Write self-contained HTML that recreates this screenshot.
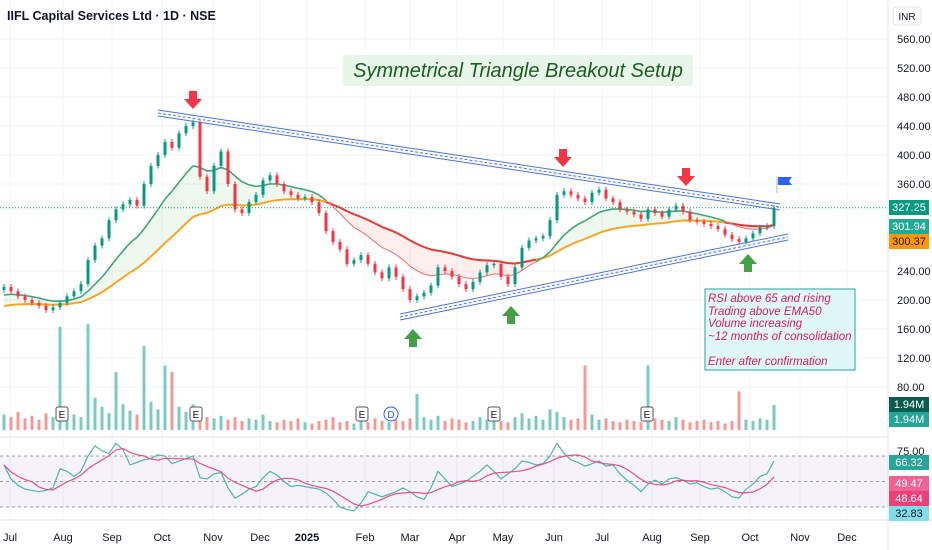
<!DOCTYPE html>
<html><head><meta charset="utf-8"><style>
html,body{margin:0;padding:0;background:#fff;}
svg{display:block;font-family:"Liberation Sans",sans-serif;}
</style></head><body>
<svg id="c" width="932" height="550" xmlns="http://www.w3.org/2000/svg">
<g id="grid"></g>
<rect x="0" y="456" width="888" height="51" fill="#7e57c2" fill-opacity="0.08"/>
<g id="vol"></g>
<g id="ema"></g>
<g id="candles"></g>
<g id="rsi"></g>
<g id="anno"></g>
<g id="axis"></g>
</svg>
<script>
const closes=[218,212,205,200,196,192,186,190,196,205,212,222,255,275,285,310,325,332,338,330,360,385,400,418,410,430,440,445,370,350,385,405,360,325,320,335,345,365,372,360,350,345,340,342,335,320,295,280,270,250,255,262,250,238,230,245,232,215,200,205,210,220,245,240,232,222,215,225,238,248,250,232,222,245,272,282,285,288,310,345,350,345,340,335,348,352,340,335,325,322,318,312,325,320,315,325,330,322,310,308,305,302,298,290,284,280,285,292,300,302,327];
const volumes=[1.2,1.0,1.4,0.9,1.1,0.8,1.3,1.0,8.0,1.5,1.2,1.0,8.2,2.5,1.8,1.3,4.5,2.0,1.5,1.2,6.5,2.2,1.6,5.0,4.5,1.8,1.4,2.0,1.2,1.0,0.9,1.1,0.8,1.0,0.7,0.9,0.8,1.2,0.7,0.6,0.8,0.7,0.9,0.6,0.5,0.7,0.8,1.0,0.6,0.7,0.5,0.8,0.6,0.9,0.7,0.6,0.8,0.7,0.9,2.8,1.0,0.8,1.1,0.7,0.9,0.8,0.6,0.7,1.0,0.8,0.9,0.7,0.6,1.0,1.3,0.9,1.1,0.8,1.6,1.4,1.0,0.8,0.9,5.0,1.2,0.8,0.9,0.7,0.6,0.8,0.7,0.6,5.0,0.9,0.8,0.7,1.0,0.8,0.6,0.7,0.8,0.6,0.7,0.5,0.7,3.0,0.8,0.7,0.9,0.8,1.94];
const rsiVals=[63,52,47,44,43,42,43,45,60,58,54,58,70,78,74,72,80,75,63,65,67,68,71,70,64,66,68,70,53,52,56,57,45,37,40,44,46,53,58,55,50,46,47,46,45,44,41,36,30,28,27,33,42,40,38,40,42,45,42,38,36,45,58,52,46,48,50,54,58,63,58,52,56,60,66,65,63,64,70,80,72,67,65,62,64,66,62,63,56,51,47,42,48,51,48,52,53,51,48,49,46,44,45,42,38,37,44,48,54,56,66];
const priceTicks=[560,520,480,440,400,360,240,200,160,120,80];
const monthLabels=["Jul","Aug","Sep","Oct","Nov","Dec","2025","Feb","Mar","Apr","May","Jun","Jul","Aug","Sep","Oct","Nov","Dec"];
const monthX=[10,63,112,162,213,260,307,365,410,457,503,554,602,652,700,750,800,847];

const NS="http://www.w3.org/2000/svg";
function el(t,a,p){const e=document.createElementNS(NS,t);for(const k in a)e.setAttribute(k,a[k]);p.appendChild(e);return e;}
const X=i=>4+i*7;
const Y=p=>39+(560-p)*0.725;
const VY=v=>430-v*12.9;
const RY=r=>456+(70-r)*1.275;
const G=id=>document.getElementById(id);

for(const t of priceTicks){const l=el('line',{x1:0,x2:888,y1:Y(t),y2:Y(t),stroke:'#f0f3fa'},G('grid'));

}
for(const mx of monthX){const l=el('line',{x1:mx,x2:mx,y1:0,y2:520,stroke:'#f0f3fa'},G('grid'));

}

closes.forEach((c,i)=>{const up=i==0?true:c>=closes[i-1];
const r=el('rect',{x:X(i)-1.5,y:VY(volumes[i]),width:3,height:volumes[i]*12.9,fill:up?'#26a69a':'#ef5350','fill-opacity':0.6},G('vol'));

});

function ema(arr,n,seed){const k=2/(n+1);let e=seed;return arr.map(v=>e=e+(v-e)*k);}
const fast=ema(closes,12,205), slow=ema(closes,30,190);
for(let i=1;i<closes.length;i++){
 const bull=fast[i]>=slow[i];
 const poly=el('polygon',{points:`${X(i-1)},${Y(fast[i-1])} ${X(i)},${Y(fast[i])} ${X(i)},${Y(slow[i])} ${X(i-1)},${Y(slow[i-1])}`,fill:bull?'#4caf50':'#f44336','fill-opacity':0.09},G('ema'));
 
 
 const a=el('line',{x1:X(i-1),y1:Y(slow[i-1]),x2:X(i),y2:Y(slow[i]),stroke:bull?'#f5a623':'#e53935','stroke-width':2},G('ema'));
 
 
 const b=el('line',{x1:X(i-1),y1:Y(fast[i-1]),x2:X(i),y2:Y(fast[i]),stroke:bull?'#43a37a':'#ef6b6b','stroke-width':bull?1.6:1},G('ema'));
 
 
}

closes.forEach((c,i)=>{const o=i==0?c-4:closes[i-1];const up=c>=o;const col=up?'#089981':'#f23645';
const hi=Math.max(o,c)+4, lo=Math.min(o,c)-4;
const w=el('line',{x1:X(i),x2:X(i),y1:Y(hi),y2:Y(lo),stroke:col,'stroke-width':1},G('candles'));


const b=el('rect',{x:X(i)-1.5,y:Y(Math.max(o,c)),width:3,height:Math.max(1,Math.abs(o-c)*0.725),fill:col},G('candles'));

});

const lp=el('line',{x1:0,x2:888,y1:Y(327.25),y2:Y(327.25),stroke:'#089981','stroke-dasharray':'1 2','stroke-width':1},G('axis'));



[70,50,30].forEach(v=>{const l=el('line',{x1:0,x2:888,y1:RY(v),y2:RY(v),stroke:'#9598a1','stroke-dasharray':'3 3'},G('rsi'));

});
const rsiPath=rsiVals.map((r,i)=>(i?'L':'M')+X(i)+','+RY(r)).join('');
const rp=el('path',{d:rsiPath,fill:'none',stroke:'#4db6ac','stroke-width':1.2},G('rsi'));


const ma=rsiVals.map((r,i)=>{const s=rsiVals.slice(Math.max(0,i-4),i+1);return s.reduce((a,b)=>a+b,0)/s.length;});
const mp=el('path',{d:ma.map((r,i)=>(i?'L':'M')+X(i)+','+RY(r)).join(''),fill:'none',stroke:'#e84e8a','stroke-width':1.2},G('rsi'));



priceTicks.forEach(t=>{const tx=el('text',{x:897,y:Y(t)+4,'font-size':11,fill:'#131722'},G('axis'));tx.textContent=t.toFixed(2);

});
monthLabels.forEach((m,i)=>{const tx=el('text',{x:monthX[i],y:541,'font-size':11,fill:'#131722','text-anchor':'middle','font-weight':m=='2025'?'bold':'normal'},G('axis'));tx.textContent=m;

});
</script>
<script>
const A=document.getElementById('anno');
A.insertAdjacentHTML('beforeend',`
<line x1="888" y1="0" x2="888" y2="550" stroke="#e0e3eb"/>
<line x1="0" y1="437" x2="888" y2="437" stroke="#e0e3eb"/>
<line x1="0" y1="520" x2="932" y2="520" stroke="#e0e3eb"/>
<text x="7" y="20" font-size="12.5" font-weight="bold" fill="#131722">IIFL Capital Services Ltd · 1D · NSE</text>
<rect x="893" y="7" width="28" height="18" rx="3" fill="#fff" stroke="#e0e3eb"/>
<text x="907" y="20" font-size="10" text-anchor="middle" fill="#131722">INR</text>
<rect x="343" y="55" width="350" height="31" fill="#e8f5e9"/>
<text x="518" y="77" font-size="20" font-style="italic" fill="#1b5e20" text-anchor="middle">Symmetrical Triangle Breakout Setup</text>
<g stroke="#4a72e8">
<line x1="158" y1="110" x2="780" y2="204" stroke-width="1"/><line x1="158" y1="113" x2="780" y2="207" stroke-dasharray="3 2" stroke-width="1"/><line x1="158" y1="116" x2="780" y2="210" stroke-width="1"/></g>
<g stroke="#4a72e8">
<line x1="400" y1="314" x2="788" y2="234" stroke-width="1"/><line x1="400" y1="317" x2="788" y2="237" stroke-dasharray="3 2" stroke-width="1"/><line x1="400" y1="320" x2="788" y2="240" stroke-width="1"/></g>
<g fill="#f23645">
<path d="M189,91h8v8h5l-9,10l-9,-10h5z"/><path d="M559,149h8v8h5l-9,10l-9,-10h5z"/><path d="M682,168h8v8h5l-9,10l-9,-10h5z"/></g>
<g fill="#43a047">
<path d="M409,347h8v-8h5l-9,-10l-9,10h5z"/><path d="M507,324h8v-8h5l-9,-10l-9,10h5z"/><path d="M744,272h8v-8h5l-9,-10l-9,10h5z"/></g>
<g><line x1="777" y1="177" x2="777" y2="193" stroke="#b2b5be"/><path d="M778,177h14l-3,4l3,4h-14z" fill="#2962ff"/></g>
<rect x="705" y="289" width="150" height="81" fill="#e0f7fa" stroke="#26a69a"/>
<g font-size="11.5" font-style="italic" fill="#d81b60">
<text x="708" y="302">RSI above 65 and rising</text><text x="708" y="315">Trading above EMA50</text><text x="708" y="327">Volume increasing</text><text x="708" y="340">~12 months of consolidation</text><text x="708" y="365">Enter after confirmation</text></g>
<g font-size="10" fill="#131722">
<rect x="56" y="407" width="12" height="14" fill="#fff" stroke="#555" rx="2"/><text x="62" y="418" text-anchor="middle">E</text>
<rect x="190" y="407" width="12" height="14" fill="#fff" stroke="#555" rx="2"/><text x="196" y="418" text-anchor="middle">E</text>
<rect x="356" y="407" width="12" height="14" fill="#fff" stroke="#555" rx="2"/><text x="362" y="418" text-anchor="middle">E</text>
<circle cx="391" cy="414" r="7" fill="#fff" stroke="#2962ff"/><text x="391" y="418" text-anchor="middle" fill="#2962ff">D</text>
<rect x="488" y="407" width="12" height="14" fill="#fff" stroke="#555" rx="2"/><text x="494" y="418" text-anchor="middle">E</text>
<rect x="641" y="407" width="12" height="14" fill="#fff" stroke="#555" rx="2"/><text x="647" y="418" text-anchor="middle">E</text></g>
<g font-size="11">
<rect x="889" y="200" width="40" height="15" fill="#089981"/><text x="909" y="211" fill="#fff" text-anchor="middle">327.25</text>
<rect x="889" y="219" width="40" height="15" fill="#22ab94"/><text x="909" y="230" fill="#fff" text-anchor="middle">301.94</text>
<rect x="889" y="234" width="40" height="15" fill="#ff9800"/><text x="909" y="245" fill="#131722" text-anchor="middle">300.37</text>
<rect x="889" y="397" width="40" height="15" fill="#0a5d4c"/><text x="909" y="408" fill="#fff" text-anchor="middle">1.94M</text>
<rect x="889" y="412" width="40" height="15" fill="#26a69a"/><text x="909" y="423" fill="#fff" text-anchor="middle">1.94M</text>
<text x="897" y="455" fill="#131722">75.00</text>
<rect x="889" y="455" width="40" height="15" fill="#26a69a"/><text x="909" y="466" fill="#fff" text-anchor="middle">66.32</text>
<rect x="889" y="476" width="40" height="15" fill="#f06292"/><text x="909" y="487" fill="#fff" text-anchor="middle">49.47</text>
<rect x="889" y="491" width="40" height="15" fill="#e91e63" fill-opacity="0.85"/><text x="909" y="502" fill="#fff" text-anchor="middle">48.64</text>
<rect x="889" y="506" width="40" height="15" fill="#80deea"/><text x="909" y="517" fill="#131722" text-anchor="middle">32.83</text></g>
`);
</script>
</body></html>
